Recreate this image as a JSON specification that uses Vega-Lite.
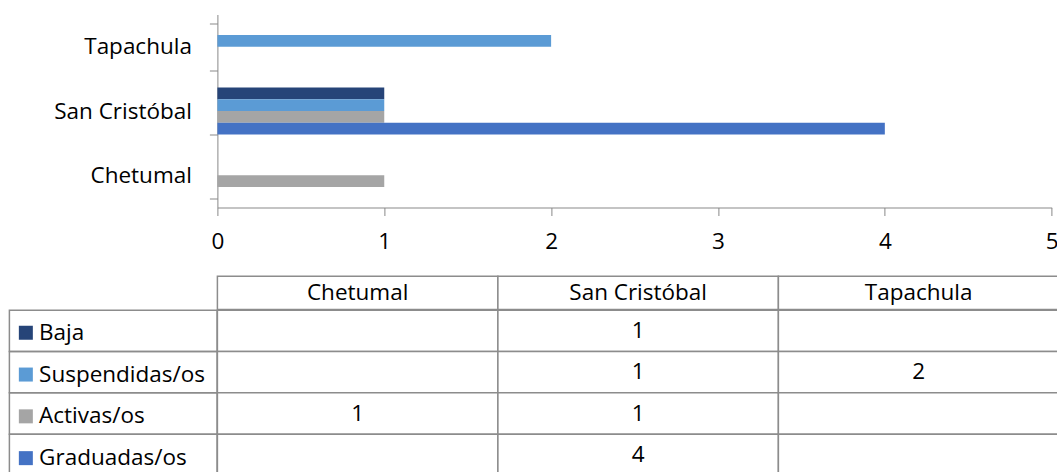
{
  "$schema": "https://vega.github.io/schema/vega-lite/v6.json",
  "padding": {"left": 8.4, "top": 3.5, "right": 0, "bottom": 0},
  "background": "white",
  "config": {"view": {"stroke": null}, "font": "Open Sans"},
  "datasets": {
    "counts": [
      {"city": "Chetumal", "status": "Baja", "n": null},
      {"city": "Chetumal", "status": "Suspendidas/os", "n": null},
      {"city": "Chetumal", "status": "Activas/os", "n": 1},
      {"city": "Chetumal", "status": "Graduadas/os", "n": null},
      {"city": "San Cristóbal", "status": "Baja", "n": 1},
      {"city": "San Cristóbal", "status": "Suspendidas/os", "n": 1},
      {"city": "San Cristóbal", "status": "Activas/os", "n": 1},
      {"city": "San Cristóbal", "status": "Graduadas/os", "n": 4},
      {"city": "Tapachula", "status": "Baja", "n": null},
      {"city": "Tapachula", "status": "Suspendidas/os", "n": 2},
      {"city": "Tapachula", "status": "Activas/os", "n": null},
      {"city": "Tapachula", "status": "Graduadas/os", "n": null}
    ],
    "cities": [{"city": "Chetumal"}, {"city": "San Cristóbal"}, {"city": "Tapachula"}],
    "statuses": [{"status": "Baja"}, {"status": "Suspendidas/os"}, {"status": "Activas/os"}, {"status": "Graduadas/os"}]
  },
  "resolve": {"scale": {"color": "independent"}, "legend": {"color": "independent"}},
  "columns": 2,
  "spacing": {"row": 68.7, "column": 0},
  "bounds": "flush",
  "concat": [
    {
      "width": 207.7, "height": 193,
      "data": {"values": [{}]},
      "mark": {"type": "text", "text": ""}
    },
    {
      "width": 834.3, "height": 193,
      "data": {"name": "counts"},
      "transform": [{"filter": "isValid(datum.n)"}],
      "mark": {"type": "bar"},
      "encoding": {
        "y": {
          "field": "city", "type": "nominal",
          "sort": ["Tapachula", "San Cristóbal", "Chetumal"],
          "scale": {"domain": ["Tapachula", "San Cristóbal", "Chetumal"], "paddingInner": 0.27, "paddingOuter": 0.135},
          "axis": {"title": null, "tickBand": "extent", "tickSize": 8, "labelPadding": 18, "labelFontSize": 22.5, "labelFont": "Open Sans", "labelColor": "#000000", "domainColor": "#898989", "tickColor": "#898989", "labelLimit": 400}
        },
        "yOffset": {
          "field": "status", "type": "nominal",
          "sort": ["Baja", "Suspendidas/os", "Activas/os", "Graduadas/os"],
          "scale": {"domain": ["Baja", "Suspendidas/os", "Activas/os", "Graduadas/os"], "paddingInner": 0, "paddingOuter": 0}
        },
        "x": {
          "field": "n", "type": "quantitative",
          "scale": {"domain": [0, 5], "nice": false},
          "axis": {"title": null, "values": [0, 1, 2, 3, 4, 5], "grid": false, "tickSize": 8, "labelPadding": 15, "labelFontSize": 22.5, "labelFont": "Open Sans", "labelColor": "#000000", "domainColor": "#898989", "tickColor": "#898989", "labelFlush": false}
        },
        "color": {
          "field": "status", "type": "nominal",
          "scale": {"domain": ["Baja", "Suspendidas/os", "Activas/os", "Graduadas/os"], "range": ["#264478", "#5B9BD5", "#A5A5A5", "#4472C4"]},
          "legend": {"orient": "none", "legendX": -202.8, "legendY": 307, "title": null, "symbolType": "square", "symbolSize": 196, "symbolStrokeWidth": 0, "symbolOpacity": 1, "labelFontSize": 22.5, "labelFont": "Open Sans", "labelColor": "#000000", "rowPadding": 18.8, "labelOffset": 2, "labelLimit": 400, "padding": 0}
        }
      }
    },
    {
      "vconcat": [
        {
          "width": 207.7, "height": 33.3,
          "data": {"values": [{}]},
          "mark": {"type": "text", "text": ""}
        },
        {
          "width": 207.7, "height": 165.3,
          "data": {"name": "statuses"},
          "mark": {"type": "rect", "fill": "white", "fillOpacity": 0, "stroke": "#8c8c8c", "strokeWidth": 1.5},
          "encoding": {
            "y": {"field": "status", "type": "nominal", "sort": ["Baja", "Suspendidas/os", "Activas/os", "Graduadas/os"], "scale": {"paddingInner": 0, "paddingOuter": 0}, "axis": null}
          }
        }
      ],
      "spacing": 0,
      "bounds": "flush"
    },
    {
      "vconcat": [
        {
          "width": 841.5, "height": 33.3,
          "data": {"name": "cities"},
          "encoding": {
            "x": {"field": "city", "type": "nominal", "sort": ["Chetumal", "San Cristóbal", "Tapachula"], "scale": {"paddingInner": 0, "paddingOuter": 0}, "axis": null}
          },
          "layer": [
            {"mark": {"type": "rect", "fill": "white", "stroke": "#8c8c8c", "strokeWidth": 1.5}},
            {"mark": {"type": "text", "fontSize": 22.5, "font": "Open Sans", "color": "#000000", "baseline": "middle"}, "encoding": {"text": {"field": "city"}}}
          ]
        },
        {
          "width": 841.5, "height": 165.3,
          "data": {"name": "counts"},
          "encoding": {
            "x": {"field": "city", "type": "nominal", "sort": ["Chetumal", "San Cristóbal", "Tapachula"], "scale": {"paddingInner": 0, "paddingOuter": 0}, "axis": null},
            "y": {"field": "status", "type": "nominal", "sort": ["Baja", "Suspendidas/os", "Activas/os", "Graduadas/os"], "scale": {"paddingInner": 0, "paddingOuter": 0}, "axis": null}
          },
          "layer": [
            {"mark": {"type": "rect", "fill": "white", "stroke": "#8c8c8c", "strokeWidth": 1.5}},
            {
              "transform": [{"filter": "isValid(datum.n)"}],
              "mark": {"type": "text", "fontSize": 22.5, "font": "Open Sans", "color": "#000000", "baseline": "middle"},
              "encoding": {"text": {"field": "n", "type": "quantitative"}}
            }
          ]
        }
      ],
      "spacing": 0,
      "bounds": "flush"
    }
  ]
}
